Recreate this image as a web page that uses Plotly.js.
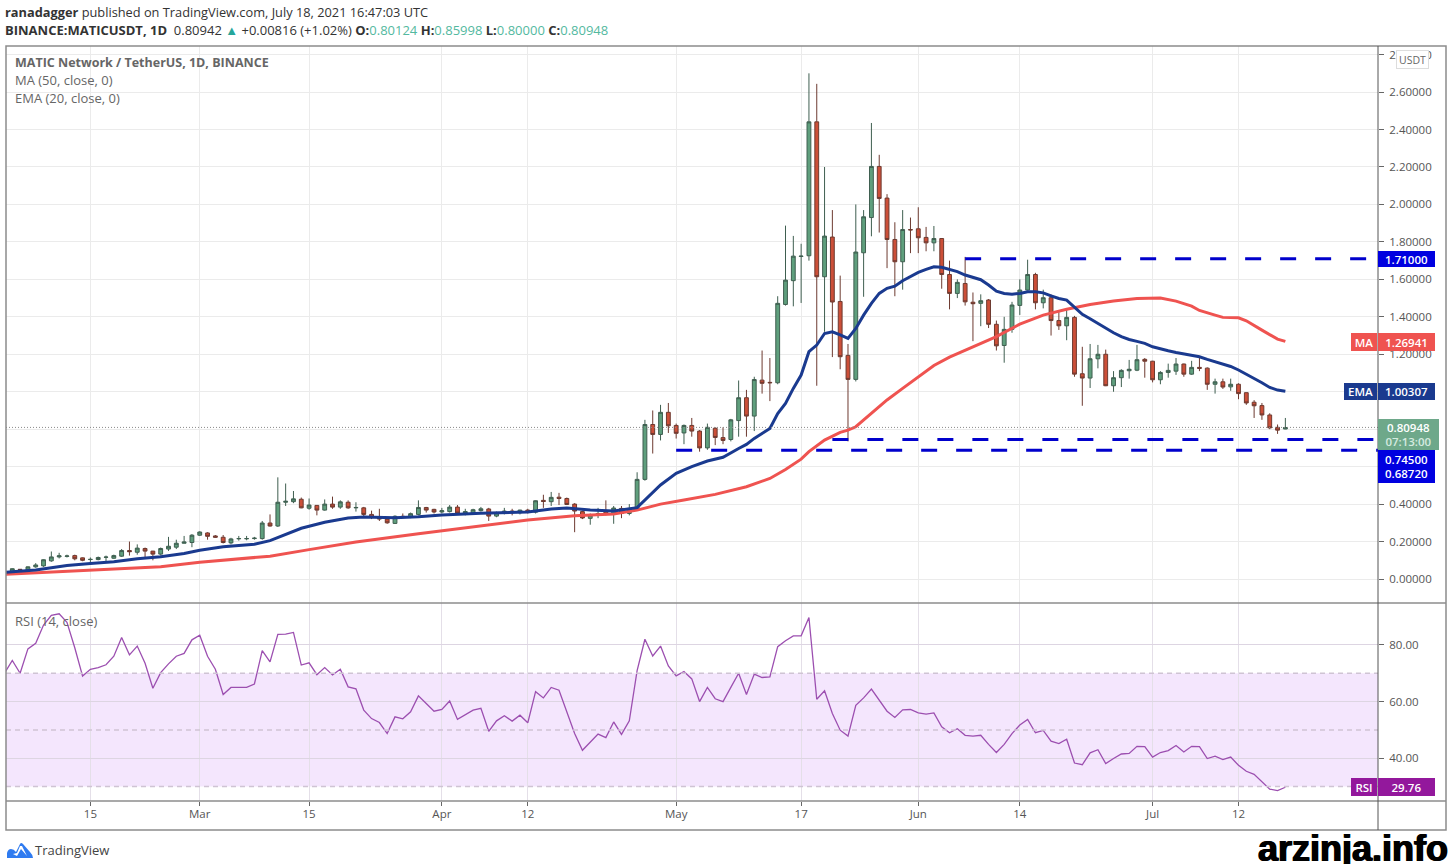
<!DOCTYPE html>
<html>
<head>
<meta charset="utf-8">
<script src="https://cdn.plot.ly/plotly-3.0.1.min.js"></script>
<style>
html, body { margin: 0; padding: 0; background: #fff; }
#chart { width: 1451px; height: 864px; }
</style>
</head>
<body>
<div id="chart"></div>
<script>
// daily candles, Feb 5 to Jul 18 2021
var firstDay = '2021-02-05';

var opens = [
  .040,.052,.048,.065,.070,.097,.118,.121,.125,.113,.104,.104,.116,.111,.122,.152,.143,.163,.149,.133,.160,.170,.191,.195,
  .234,.246,.230,.223,.193,.215,.215,.216,.216,.299,.283,.410,.413,.426,.378,.393,.368,.400,.384,.410,.380,.380,.345,.330,.320,.297,.335,.330,.345,.382,.372,
  .358,.360,.384,.352,.352,.365,.374,.336,.350,.363,.354,.368,.357,.420,.413,.437,.430,.400,.360,.324,.342,.362,.347,.377,.350,.377,.532,.825,.772,.890,
  .820,.780,.820,.790,.700,.805,.755,.745,.846,.968,.870,1.062,1.050,1.048,1.466,1.593,1.722,1.726,2.441,1.614,1.826,1.482,1.194,1.066,1.742,1.930,2.203,2.034,1.813,1.694,1.866,
  1.870,1.824,1.795,1.818,1.626,1.525,1.578,1.478,1.472,1.490,1.360,1.247,1.333,1.461,1.543,1.626,1.475,1.502,1.380,1.352,1.397,1.096,1.073,1.176,1.200,1.032,1.075,1.112,1.115,1.173,
  1.163,1.064,1.103,1.110,1.148,1.094,1.130,1.126,1.040,1.053,1.026,1.040,.995,.944,.926,.876,.810,.801
];
var highs = [
  .057,.053,.067,.085,.105,.147,.140,.130,.130,.115,.115,.120,.125,.130,.160,.200,.185,.168,.150,.168,.225,.210,.230,.240,
  .255,.250,.235,.235,.220,.230,.230,.225,.310,.345,.543,.510,.470,.435,.430,.395,.425,.440,.420,.420,.410,.385,.365,.375,.330,.340,.350,.355,.420,.385,.375,
  .380,.395,.395,.375,.375,.385,.380,.360,.380,.375,.370,.375,.420,.450,.465,.460,.435,.405,.365,.350,.380,.420,.390,.390,.400,.570,.850,.900,.930,.940,
  .830,.825,.860,.795,.830,.810,.810,.855,1.060,1.010,1.080,1.220,1.180,1.510,1.887,1.832,1.790,2.700,2.644,2.200,1.970,1.620,1.255,2.000,1.970,2.435,2.265,2.055,1.905,1.970,1.930,
  1.985,1.880,1.885,1.820,1.700,1.600,1.720,1.530,1.520,1.495,1.380,1.400,1.480,1.600,1.705,1.635,1.545,1.520,1.425,1.440,1.405,1.240,1.255,1.250,1.225,1.110,1.120,1.170,1.250,1.180,
  1.165,1.110,1.150,1.180,1.150,1.165,1.185,1.130,1.070,1.070,1.070,1.045,.995,.955,.940,.885,.825,.860
];
var lows = [
  .038,.045,.045,.060,.065,.092,.110,.115,.100,.095,.085,.100,.095,.108,.118,.125,.130,.117,.100,.125,.150,.160,.190,.170,
  .230,.210,.220,.190,.185,.205,.207,.210,.210,.280,.278,.390,.405,.378,.370,.340,.365,.375,.375,.375,.360,.330,.320,.310,.295,.295,.325,.325,.340,.355,.350,
  .350,.355,.345,.340,.345,.360,.310,.330,.345,.340,.345,.350,.350,.380,.390,.395,.395,.250,.320,.290,.325,.340,.295,.325,.340,.370,.525,.670,.740,.780,
  .750,.720,.760,.680,.690,.715,.720,.735,.760,.760,.790,.990,.950,1.040,1.460,1.456,1.474,1.700,1.032,1.320,1.185,1.120,.735,1.055,1.507,1.830,1.850,1.660,1.510,1.545,1.740,
  1.740,1.750,1.750,1.550,1.440,1.500,1.460,1.270,1.350,1.340,1.220,1.155,1.315,1.410,1.540,1.440,1.445,1.300,1.330,1.275,1.080,.925,1.020,1.125,1.030,1.000,1.025,1.070,1.110,1.075,
  1.050,1.040,1.075,1.090,1.080,1.090,1.110,1.010,.990,1.015,1.005,.960,.930,.860,.850,.800,.775,.800
];
var closes = [
  .055,.050,.065,.075,.103,.118,.124,.123,.108,.100,.105,.115,.117,.125,.152,.146,.165,.149,.133,.163,.175,.191,.198,.234,
  .251,.228,.223,.195,.214,.216,.216,.218,.299,.283,.410,.415,.428,.380,.395,.368,.400,.384,.412,.380,.382,.345,.330,.320,.300,.335,.331,.349,.382,.368,.358,
  .365,.384,.352,.360,.370,.375,.336,.354,.363,.354,.368,.356,.418,.414,.436,.430,.398,.363,.326,.342,.350,.347,.379,.350,.377,.532,.825,.772,.890,.818,
  .778,.820,.790,.700,.810,.756,.740,.850,.968,.870,1.065,1.045,1.048,1.472,1.596,1.724,1.724,2.441,1.614,1.831,1.479,1.187,1.066,1.746,1.934,2.203,2.032,1.813,1.694,1.866,1.864,
  1.822,1.795,1.818,1.626,1.525,1.584,1.480,1.470,1.486,1.360,1.245,1.333,1.463,1.543,1.626,1.475,1.502,1.380,1.352,1.397,1.094,1.073,1.176,1.200,1.032,1.075,1.114,1.120,1.171,1.163,
  1.064,1.103,1.114,1.148,1.094,1.130,1.125,1.040,1.053,1.025,1.040,.990,.940,.925,.876,.807,.795,.809
];

// EMA 20
var emaDates = ['02-04','02-08','02-10','02-12','02-15','02-18','02-21','02-24','02-27','03-01','03-04','03-08','03-10','03-12','03-14','03-17','03-20','03-22','03-26','03-29','04-01','04-06','04-12','04-15','04-17','04-20','04-23','04-26','04-27','04-29','05-01','05-03','05-05','05-07','05-09','05-10','05-11','05-13','05-14','05-15','05-16','05-17','05-18','05-19','05-20','05-21','05-22','05-23','05-24','05-25','05-26','05-27','05-28','05-29','05-30','05-31','06-01','06-02','06-03','06-04','06-05','06-06','06-07','06-09','06-10','06-11','06-12','06-13','06-14','06-15','06-16','06-17','06-18','06-19','06-20','06-21','06-22','06-23','06-24','06-25','06-26','06-27','06-28','06-29','06-30','07-01','07-02','07-03','07-04','07-05','07-06','07-07','07-08','07-09','07-10','07-11','07-12','07-13','07-14','07-15','07-16','07-17','07-18'];
var emaValues = [.035,.048,.060,.072,.083,.092,.108,.119,.136,.154,.172,.186,.205,.237,.271,.303,.326,.331,.327,.333,.342,.351,.358,.374,.379,.368,.363,.381,.422,.502,.564,.600,.630,.650,.697,.719,.751,.804,.884,.938,1.018,1.089,1.214,1.249,1.311,1.320,1.304,1.285,1.338,1.409,1.472,1.525,1.552,1.564,1.593,1.617,1.637,1.653,1.667,1.665,1.653,1.641,1.623,1.598,1.570,1.537,1.525,1.521,1.525,1.534,1.534,1.528,1.512,1.498,1.489,1.450,1.413,1.390,1.365,1.338,1.315,1.294,1.279,1.269,1.258,1.240,1.228,1.219,1.210,1.201,1.196,1.187,1.173,1.160,1.148,1.135,1.116,1.094,1.071,1.048,1.023,1.009,1.003];

// MA 50
var maDates = ['02-04','02-15','02-24','03-01','03-10','03-15','03-21','03-29','04-06','04-12','04-18','04-23','04-26','04-29','05-02','05-06','05-10','05-13','05-15','05-17','05-18','05-20','05-22','05-23','05-24','05-26','05-28','05-30','06-01','06-03','06-05','06-08','06-11','06-14','06-17','06-20','06-23','06-26','06-29','07-02','07-04','07-06','07-07','07-09','07-10','07-12','07-13','07-15','07-17','07-18'];
var maValues = [.025,.047,.065,.090,.122,.157,.198,.242,.286,.315,.338,.347,.368,.400,.422,.452,.493,.537,.585,.640,.680,.742,.783,.795,.813,.884,.956,1.018,1.080,1.140,1.185,1.238,1.294,1.361,1.409,1.440,1.466,1.484,1.498,1.500,1.484,1.457,1.434,1.409,1.397,1.395,1.379,1.329,1.281,1.269];

// RSI 14, Feb 4 to Jul 18
var rsiValues = [
  70,74.5,70,78.6,80.6,87,90.4,91,88,79,69,71.4,72,73,76,82.6,76.5,79.6,73.5,64.7,70.2,73.3,76,77,81.8,
  83.4,76,71.4,62.5,65,65,65,66.2,78,74,83.7,83.8,84.4,72.9,73.7,69.5,72,69.4,71.4,65.2,64.5,57,54,52.6,48.7,54.6,53.9,56.4,62,59.3,56.6,
  57.2,60.2,53.7,55.2,57,57.6,49.5,53.2,55,53.1,55.2,52.5,63.5,61.3,65,64,56.4,48.7,42.8,45.8,48.5,47.3,52.8,48.4,53.2,70.9,82,76.1,79.6,72.6,
  69.1,70.6,68,60,65,61,60,65,70,62.5,69.7,68.5,68.7,79.4,81.5,83.2,83.2,89.7,60.8,63.8,55.8,49.9,47.8,58.7,61.3,64.4,60.5,56.6,54.4,57.1,57.2,
  56,55.6,56,51.1,49,50.4,48.1,47.8,48.1,44.9,42,44.9,48.7,51.7,53.7,49,49.8,46,45.2,46.7,38.3,37.7,41.9,43,38.1,39.9,41.5,41.7,44.2,44.1,
  40.4,42,42.7,44.5,42.2,44.2,44.1,39.9,40.7,39.5,40.4,37.5,35.4,34.3,31.8,29.1,28.6,29.76
];

// the 0.6, 0.8 and 1.0 labels sit behind the price tags in the picture
var priceTicks = [0,.2,.4,.6,.8,1,1.2,1.4,1.6,1.8,2,2.2,2.4,2.6,2.8];
var priceLabels = ['0.00000','0.20000','0.40000','','','','1.20000','1.40000','1.60000','1.80000','2.00000','2.20000','2.40000','2.60000','2.80000'];
var rsiTicks = [40,60,80];
var timeTicks = ['2021-02-15','2021-03-01','2021-03-15','2021-04-01','2021-04-12','2021-05-01','2021-05-17','2021-06-01','2021-06-14','2021-07-01','2021-07-12'];
var timeLabels = ['15','Mar','15','Apr','12','May','17','Jun','14','Jul','12'];

var level1 = 1.71, level2 = 0.745, level3 = 0.6872;
var lastPrice = 0.80948;

var W = 1451, H = 864;
var font = '"Open Sans", sans-serif';
function px(x) { return x / W; }
function py(y) { return 1 - y / H; }

function dayList(start, n) {
  var out = [], t = Date.parse(start + 'T00:00:00Z');
  for (var i = 0; i < n; i++) out.push(new Date(t + i * 864e5).toISOString().slice(0, 10));
  return out;
}
function withYear(list) { return list.map(function (d) { return '2021-' + d; }); }

var days = dayList(firstDay, closes.length);
var xRange = ['2021-02-04 04:40', '2021-07-29 20:40'];
var lineEnd = '2021-07-29 20:40';

function dashed(start, value) {
  return {
    type: 'scatter', mode: 'lines', x: [start, lineEnd], y: [value, value], hoverinfo: 'skip',
    line: {color: '#0000cc', width: 3, dash: '16px,19px'}
  };
}

var data = [
  {
    type: 'candlestick', x: days, open: opens, high: highs, low: lows, close: closes, hoverinfo: 'skip',
    increasing: {line: {color: '#3f5f50', width: 1}, fillcolor: '#5f9f7d'},
    decreasing: {line: {color: '#6d3a30', width: 1}, fillcolor: '#cc4f38'}
  },
  dashed('2021-06-07', level1),
  dashed('2021-05-21', level2),
  dashed('2021-05-01', level3),
  {type: 'scatter', mode: 'lines', x: withYear(maDates), y: maValues, hoverinfo: 'skip', line: {color: '#ef5350', width: 3}},
  {type: 'scatter', mode: 'lines', x: withYear(emaDates), y: emaValues, hoverinfo: 'skip', line: {color: '#1a3a8f', width: 3}},
  {
    type: 'scatter', mode: 'lines', xaxis: 'x2', yaxis: 'y2', hoverinfo: 'skip',
    x: dayList('2021-02-04', rsiValues.length), y: rsiValues,
    line: {color: '#9c4fb0', width: 1.3}
  }
];

var axisFont = {family: font, size: 11.5, color: '#555'};

var layout = {
  width: W, height: H, showlegend: false,
  margin: {l: 0, r: 0, t: 0, b: 0},
  paper_bgcolor: '#fff', plot_bgcolor: '#fff',
  xaxis: {
    type: 'date', range: xRange, domain: [px(6), px(1378)], anchor: 'y',
    rangeslider: {visible: false}, tickvals: timeTicks, showticklabels: false, ticks: '',
    showgrid: true, gridcolor: '#ebebeb', gridwidth: 1, zeroline: false, showline: false
  },
  yaxis: {
    range: [-0.128, 2.846], domain: [py(603), py(46)], anchor: 'x', side: 'right',
    tickvals: priceTicks, ticktext: priceLabels, ticks: 'outside', ticklen: 5, tickcolor: '#666',
    ticklabelstandoff: 3, tickfont: axisFont,
    showgrid: true, gridcolor: '#ebebeb', gridwidth: 1, zeroline: false, showline: false
  },
  xaxis2: {
    type: 'date', range: xRange, domain: [px(6), px(1378)], anchor: 'y2',
    tickvals: timeTicks, ticktext: timeLabels, ticks: 'outside', ticklen: 4, tickcolor: '#666',
    tickfont: axisFont, tickangle: 0, ticklabelstandoff: -2,
    showgrid: true, gridcolor: '#e4dfe8', gridwidth: 1, zeroline: false, showline: false
  },
  yaxis2: {
    range: [24.9, 94.8], domain: [py(801), py(603)], anchor: 'x2', side: 'right',
    tickvals: rsiTicks, tickformat: '.2f', ticks: 'outside', ticklen: 5, tickcolor: '#666',
    ticklabelstandoff: 3, tickfont: axisFont,
    showgrid: true, gridcolor: '#ddd5e2', gridwidth: 1, zeroline: false, showline: false
  },
  shapes: [
    {type: 'rect', layer: 'below', xref: 'paper', yref: 'y2', x0: px(6), x1: px(1378), y0: 30, y1: 70, fillcolor: '#f4e6fd', line: {width: 0}},
    {type: 'line', layer: 'above', xref: 'paper', yref: 'y2', x0: px(6), x1: px(1378), y0: 70, y1: 70, line: {color: '#cfc4d4', width: 1.5, dash: '5px,4px'}},
    {type: 'line', layer: 'above', xref: 'paper', yref: 'y2', x0: px(6), x1: px(1378), y0: 50, y1: 50, line: {color: '#cfc4d4', width: 1.5, dash: '5px,4px'}},
    {type: 'line', layer: 'above', xref: 'paper', yref: 'y2', x0: px(6), x1: px(1378), y0: 30, y1: 30, line: {color: '#cfc4d4', width: 1.5, dash: '5px,4px'}},
    {type: 'line', layer: 'above', xref: 'paper', yref: 'y', x0: px(6), x1: px(1378), y0: lastPrice, y1: lastPrice, line: {color: '#8a8a8a', width: 1, dash: '1px,2px'}},
    // frame and pane separators
    {type: 'rect', xref: 'paper', yref: 'paper', x0: px(6), x1: px(1446), y0: py(830), y1: py(46), line: {color: '#8c8c8c', width: 1.5}},
    {type: 'line', xref: 'paper', yref: 'paper', x0: px(6), x1: px(1446), y0: py(603), y1: py(603), line: {color: '#8c8c8c', width: 1.5}},
    {type: 'line', xref: 'paper', yref: 'paper', x0: px(6), x1: px(1446), y0: py(801), y1: py(801), line: {color: '#8c8c8c', width: 1.5}},
    {type: 'line', xref: 'paper', yref: 'paper', x0: px(1378), x1: px(1378), y0: py(830), y1: py(46), line: {color: '#555', width: 1}}
  ],
  images: [{
    source: 'data:image/svg+xml;utf8,' + encodeURIComponent('<svg xmlns="http://www.w3.org/2000/svg" viewBox="0 0 26 16"><path fill="#2f7bf0" d="M0 16 L0 11 Q1 7 4 7 Q7 7 9 10 L13 2 Q14 0 16 2 L23 10 Q26 13 26 16 Z"/><path fill="#fff" d="M6 12 L10 14 L14 7 L20 14 L15 4 L13 4 L10 11 Z"/></svg>'),
    xref: 'paper', yref: 'paper', x: px(7), y: py(842), sizex: px(26), sizey: 16 / H, sizing: 'stretch', xanchor: 'left', yanchor: 'top', layer: 'above'
  }],
  annotations: []
};

function label(text, x, y, size, color) {
  layout.annotations.push({
    text: text, xref: 'paper', yref: 'paper', x: px(x), y: py(y), xanchor: 'left', yanchor: 'middle',
    showarrow: false, align: 'left', font: {family: font, size: size, color: color}
  });
}
function tag(text, x0, x1, y0, y1, bg, color) {
  layout.annotations.push({
    text: text, xref: 'paper', yref: 'paper', x: px((x0 + x1) / 2), y: py((y0 + y1) / 2), xanchor: 'center', yanchor: 'middle',
    width: x1 - x0, height: y1 - y0, bgcolor: bg, borderpad: 0, borderwidth: 0, showarrow: false, align: 'center',
    font: {family: font, size: 11.5, color: color, weight: 600}
  });
}

var teal = '#53b9a0';
function val(s) { return '<span style="color:' + teal + '">' + s + '</span>'; }

label('<b>ranadagger</b> published on TradingView.com, July 18, 2021 16:47:03 UTC', 3, 12, 12.8, '#333');
label('<b>BINANCE:MATICUSDT, 1D</b>  0.80942 <span style="color:#26a69a">▲</span> +0.00816 (+1.02%) <b>O:</b>' + val('0.80124') + ' <b>H:</b>' + val('0.85998') + ' <b>L:</b>' + val('0.80000') + ' <b>C:</b>' + val('0.80948'), 3, 30, 13, '#333');
label('<b>MATIC Network / TetherUS, 1D, BINANCE</b>', 13, 62, 12.5, '#666');
label('MA (50, close, 0)', 13, 80, 13, '#666');
label('EMA (20, close, 0)', 13, 98, 13, '#666');
label('RSI (14, close)', 13, 621, 13, '#666');
label('TradingView', 33, 850, 13, '#444');

tag('MA', 1351, 1377, 333, 351, '#ef5350', '#fff');
tag('1.26941', 1378, 1435, 333, 351, '#ef5350', '#fff');
tag('EMA', 1344, 1377, 383, 400, '#1a3a8f', '#fff');
tag('1.00307', 1378, 1435, 383, 400, '#1a3a8f', '#fff');
tag('1.71000', 1378, 1435, 251, 267, '#0000e0', '#fff');
tag('0.74500<br>0.68720', 1378, 1435, 450, 483, '#0000e0', '#fff');
tag('0.80948<br><span style="color:#d5ebe0">07:13:00</span>', 1378, 1439, 419, 450, '#6ea88a', '#fff');
tag('RSI', 1351, 1377, 778, 796, '#93189c', '#fff');
tag('29.76', 1378, 1435, 778, 796, '#93189c', '#fff');

layout.annotations.push({
  text: 'USDT', xref: 'paper', yref: 'paper', x: px(1412.5), y: py(60), xanchor: 'center', yanchor: 'middle',
  width: 31, height: 17, bgcolor: '#fff', bordercolor: '#ddd', borderwidth: 1, borderpad: 0, showarrow: false,
  font: {family: font, size: 10.5, color: '#666'}
});
layout.annotations.push({
  text: '<b>arzinja.info</b>', xref: 'paper', yref: 'paper', x: px(1450), y: py(848), xanchor: 'right', yanchor: 'middle',
  showarrow: false, font: {family: '"Liberation Sans", sans-serif', size: 36, color: '#000', shadow: '0.7px 0 0 #000, -0.7px 0 0 #000'}
});

Plotly.newPlot('chart', data, layout, {displayModeBar: false, staticPlot: true});
</script>
</body>
</html>
